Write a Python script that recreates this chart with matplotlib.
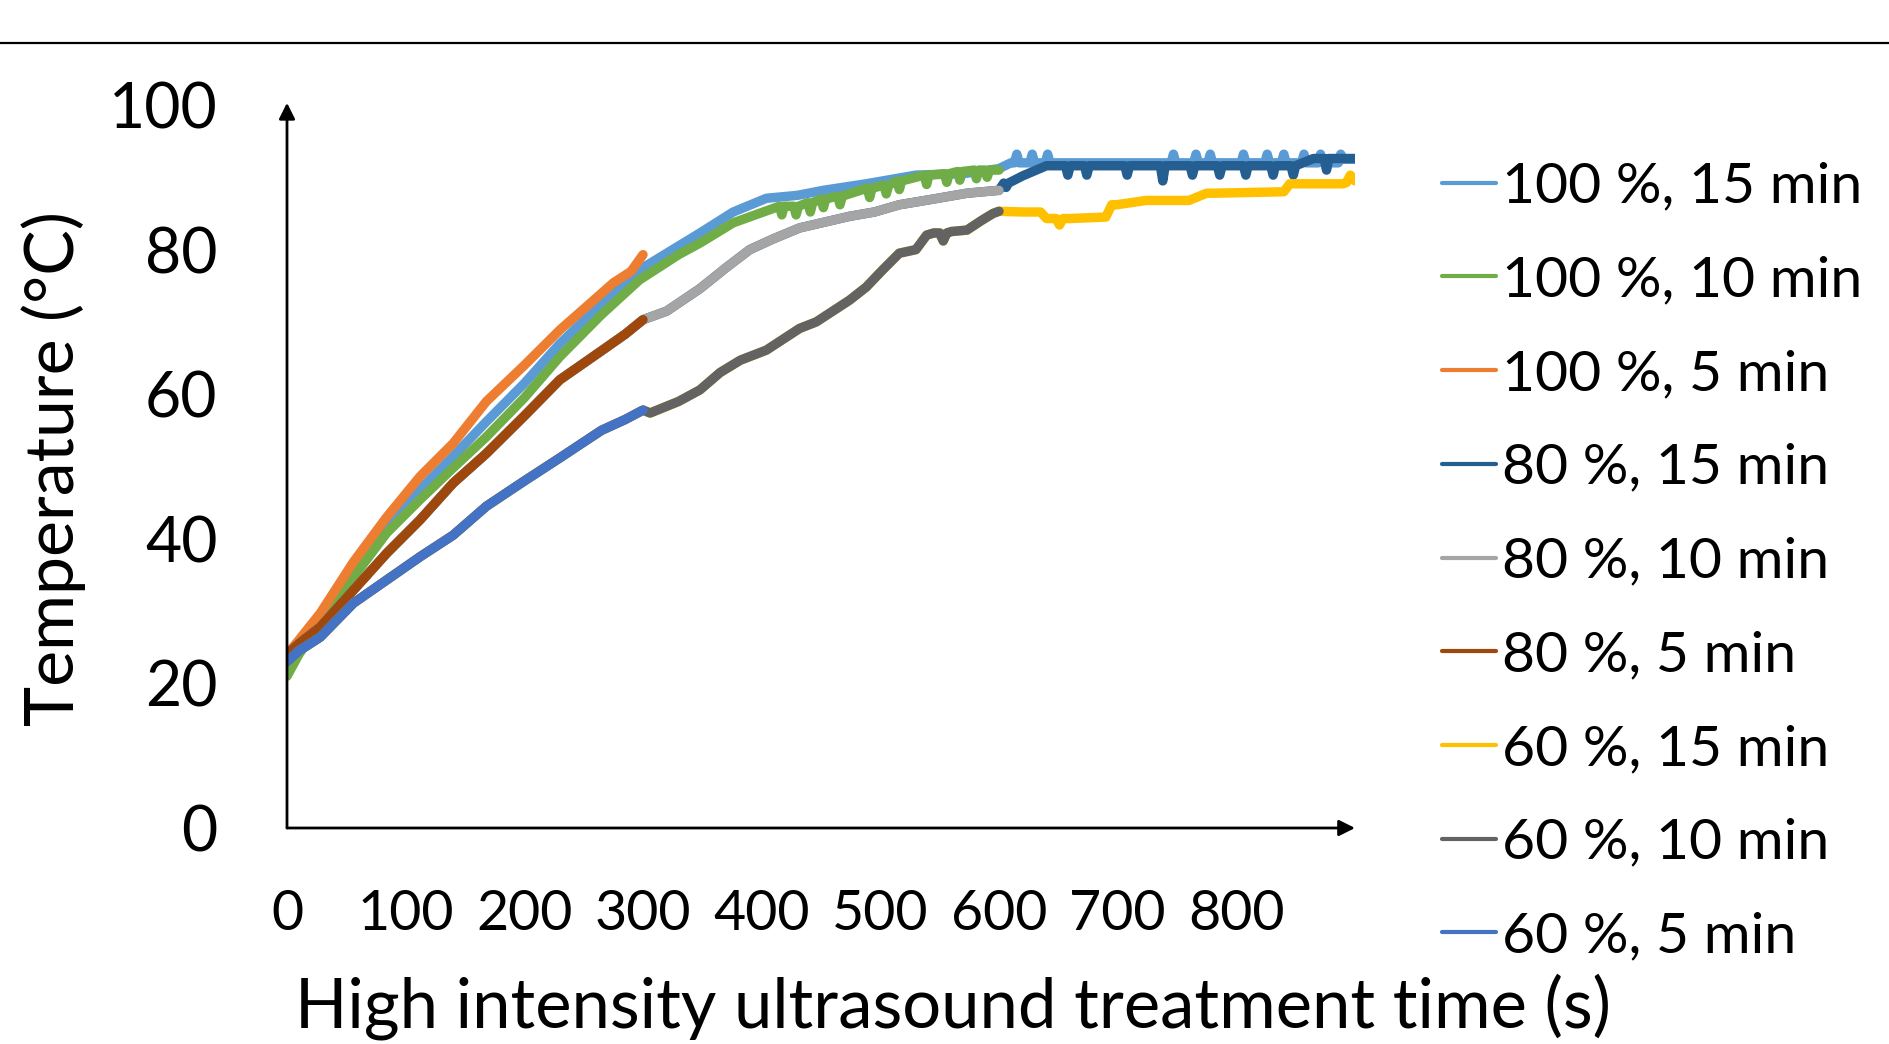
import matplotlib
matplotlib.use('Agg')
import matplotlib.pyplot as plt
from matplotlib.lines import Line2D

plt.rcParams['font.family'] = ['Lato', 'DejaVu Sans']

# ---------------- data ----------------
series_labels = ['100 %, 15 min', '100 %, 10 min', '100 %, 5 min',
                 '80 %, 15 min', '80 %, 10 min', '80 %, 5 min',
                 '60 %, 15 min', '60 %, 10 min', '60 %, 5 min']
series_colors = ['#5B9BD5', '#70AD47', '#ED7D31',
                 '#255E91', '#A5A5A5', '#9E480E',
                 '#FFC000', '#636363', '#4472C4']

x_ticks = [0, 100, 200, 300, 400, 500, 600, 700, 800]
x_tick_labels = ['0', '100', '200', '300', '400', '500', '600', '700', '800']
y_ticks = [0, 20, 40, 60, 80, 100]
y_tick_labels = ['0', '20', '40', '60', '80', '100']

# 100 % power
t_100_15 = [0, 10, 28, 56, 84, 112, 140, 168, 200, 230, 265, 297, 330, 348, 376, 404, 430, 452, 488, 530,
            570, 600, 610, 613, 615, 617, 626, 628, 630, 639, 641, 643, 700, 745, 747, 749, 764, 766, 768,
            776, 778, 780, 804, 806, 808, 824, 826, 828, 838, 840, 842, 855, 857, 859, 869, 871, 873,
            886, 888, 890, 900]
T_100_15 = [22.5, 25, 29.5, 35.5, 41.7, 46.8, 51.4, 56.2, 61.5, 67, 72.5, 77.2, 80.5, 82.3, 85.2, 87.1, 87.5,
            88.2, 89.1, 90.3, 90.5, 91.2, 92, 92, 93.2, 92, 92, 93.2, 92, 92, 93.2, 92, 92, 92, 93.2, 92,
            92, 93.2, 92, 92, 93.2, 92, 92, 93.2, 92, 92, 93.2, 92, 92, 93.2, 92, 92, 93.2, 92, 92, 93.2, 92,
            92, 93.2, 92.5, 92.5]

t_100_10 = [0, 10, 28, 56, 84, 112, 140, 168, 200, 230, 265, 297, 330, 348, 376, 398, 415, 417, 419, 427,
            429, 431, 439, 441, 443, 450, 452, 454, 464, 466, 468, 489, 491, 493, 503, 505, 507, 514, 516,
            518, 537, 539, 541, 554, 556, 558, 565, 567, 569, 579, 581, 583, 588, 590, 592, 600]
T_100_10 = [21, 24, 28.5, 34.7, 40.8, 45.4, 49.8, 54.1, 59.5, 65.2, 71, 75.8, 79.3, 80.9, 83.7, 85, 86, 84.8,
            86, 86, 84.8, 86, 86.5, 85.2, 86.5, 87, 85.8, 87, 87.4, 86.2, 87.4, 88.5, 87.2, 88.5, 88.9, 87.7,
            88.9, 89.5, 88.3, 89.5, 90.3, 89, 90.3, 90.5, 89.3, 90.5, 90.8, 89.6, 90.8, 91, 89.8, 91, 91, 90,
            91, 91]

t_100_5 = [0, 10, 28, 56, 84, 112, 140, 168, 200, 230, 255, 275, 290, 300]
T_100_5 = [24, 26, 29.7, 36.8, 43, 48.6, 53.2, 59, 64, 68.9, 72.5, 75.4, 77, 79.3]

# 80 % power (segments 0-300 s, 300-600 s, 600-900 s)
t_80_a = [0, 10, 28, 56, 84, 112, 140, 168, 200, 230, 265, 285, 300]
T_80_a = [24, 25.5, 27.8, 32.9, 38, 42.6, 47.7, 51.8, 57, 62, 66, 68.3, 70.3]
t_80_b = [320, 348, 370, 390, 410, 432, 453, 474, 495, 516, 545, 573, 600]
T_80_b = [71.5, 74.6, 77.5, 80, 81.5, 83, 83.8, 84.6, 85.2, 86.2, 87, 87.8, 88.2]
t_80_c = [604, 606, 608, 620, 640, 656, 658, 660, 672, 674, 676, 706, 708, 710, 736, 738, 740, 761, 763,
          765, 784, 786, 788, 806, 808, 810, 829, 831, 833, 846, 848, 850, 865, 874, 876, 878, 900]
T_80_c = [89.2, 88.6, 89.2, 90.2, 91.6, 91.6, 90.3, 91.6, 91.6, 90.3, 91.6, 91.6, 90.3, 91.6, 91.6, 89.5,
          91.6, 91.6, 90.3, 91.6, 91.6, 90.3, 91.6, 91.6, 90.3, 91.6, 91.6, 90.3, 91.6, 91.6, 90.3, 91.6,
          92.6, 92.6, 91, 92.6, 92.6]

# 60 % power (segments 0-300 s, 300-600 s, 600-900 s)
t_60_a = [0, 10, 28, 56, 84, 112, 140, 168, 200, 230, 265, 285, 300]
T_60_a = [23, 24.5, 26.4, 31.1, 34.3, 37.5, 40.5, 44.5, 48, 51.2, 55, 56.5, 57.8]
t_60_b = [306, 330, 348, 365, 382, 404, 432, 446, 474, 488, 502, 516, 530, 539, 545, 550, 553, 556, 560,
          573, 585, 595, 600]
T_60_b = [57.4, 59, 60.6, 63, 64.7, 66.1, 69.1, 70, 73, 74.8, 77.2, 79.5, 80, 82, 82.3, 82.3, 81.2, 82.3,
          82.5, 82.7, 84, 85, 85.3]
t_60_c = [620, 635, 640, 648, 651, 654, 660, 690, 695, 699, 724, 760, 775, 781, 840, 845, 890, 893, 896, 900]
T_60_c = [85.2, 85.2, 84.3, 84.3, 83.4, 84.3, 84.3, 84.5, 86.2, 86.2, 86.8, 86.8, 87.8, 87.8, 88, 89.1,
          89.1, 89.3, 90.3, 89.5]

series_t = [t_100_15, t_100_10, t_100_5,
            t_80_a + t_80_b + t_80_c, t_80_a + t_80_b, t_80_a,
            t_60_a + t_60_b + t_60_c, t_60_a + t_60_b, t_60_a]
series_T = [T_100_15, T_100_10, T_100_5,
            T_80_a + T_80_b + T_80_c, T_80_a + T_80_b, T_80_a,
            T_60_a + T_60_b + T_60_c, T_60_a + T_60_b, T_60_a]

# ---------------- figure ----------------
W, H = 1889, 1044
fig = plt.figure(figsize=(W / 100, H / 100), dpi=100)
ax = fig.add_axes([287 / W, 1 - 828 / H, (1355 - 287) / W, (828 - 105) / H])

for i, (tt, TT, c, lab) in enumerate(zip(series_t, series_T, series_colors, series_labels)):
    ax.plot(tt, TT, color=c, lw=6.8, solid_joinstyle='round', solid_capstyle='round',
            zorder=2 + i, label=lab)

ax.set_xlim(0, 900)
ax.set_ylim(0, 100)
for s in ax.spines.values():
    s.set_visible(False)

arrow_kw = dict(arrowstyle='-|>', lw=2.0, color='black', mutation_scale=24, shrinkA=0, shrinkB=0)
ax.annotate('', xy=(0, 1.003), xytext=(0, 0), xycoords='axes fraction', arrowprops=arrow_kw, zorder=20)
ax.annotate('', xy=(1.0, 0), xytext=(0, 0), xycoords='axes fraction', arrowprops=arrow_kw, zorder=20)

ax.set_xticks(x_ticks)
ax.set_xticklabels(x_tick_labels, fontsize=40)
ax.set_yticks(y_ticks)
ax.set_yticklabels(y_tick_labels, fontsize=45)
ax.tick_params(axis='x', length=0, pad=44)
ax.tick_params(axis='y', length=0, pad=50)

fig.text(953 / W, 1 - 1027 / H, 'High intensity ultrasound treatment time (s)',
         ha='center', va='baseline', fontsize=49.5)
fig.text(54 / W, 1 - 469 / H, 'Temperature (°C)', rotation=90,
         ha='center', va='center', fontsize=49)

fig.add_artist(Line2D([0, 1], [1 - 43 / H, 1 - 43 / H], transform=fig.transFigure,
                      color='black', lw=1.6))

handles = [Line2D([], [], color=c, lw=3.0, solid_capstyle='round') for c in series_colors]
fig.legend(handles, series_labels, loc='center left', bbox_to_anchor=(1442 / W, 1 - 562 / H),
           frameon=False, fontsize=41, handlelength=0.95, handletextpad=0.1,
           labelspacing=0.75, borderpad=0, borderaxespad=0)

fig.savefig('out.png', dpi=100)
